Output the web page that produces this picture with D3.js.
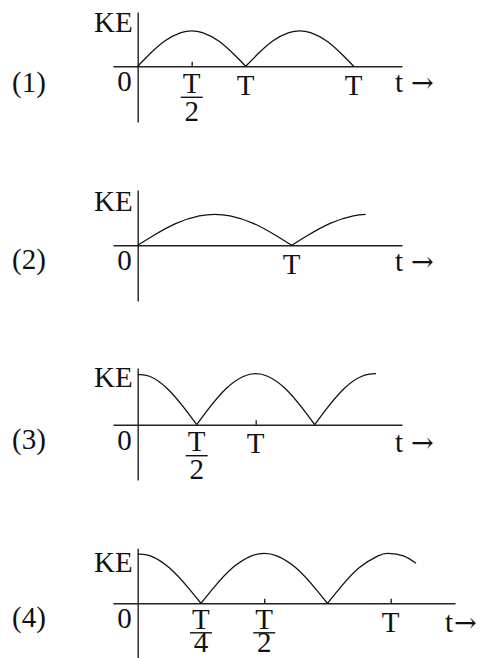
<!DOCTYPE html>
<html>
<head>
<meta charset="utf-8">
<script src="https://cdn.jsdelivr.net/npm/d3@7"></script>
<style>
  body { margin: 0; background: #fff; }
  text { font-family: "Liberation Serif", "DejaVu Serif", serif; fill: #111; }
  tspan.arrow { font-family: "DejaVu Serif", serif; }
</style>
</head>
<body>
<script>
const width = 488;
const height = 658;
const fontSize = 29;

// option labels
const panelNames = ["(1)", "(2)", "(3)", "(4)"];

// KE curves, t in units of T, KE relative to its maximum (one array per arc)
const arcs1 = [
  [[0, 0], [0.1, 0.31], [0.25, 0.71], [0.4, 0.95], [0.5, 1], [0.6, 0.95], [0.75, 0.71], [0.9, 0.31], [1, 0]],
  [[1, 0], [1.1, 0.31], [1.25, 0.71], [1.4, 0.95], [1.5, 1], [1.6, 0.95], [1.75, 0.71], [1.9, 0.31], [2, 0]],
];
const arcs2 = [
  [[0, 0], [0.1, 0.31], [0.25, 0.71], [0.4, 0.95], [0.5, 1], [0.6, 0.95], [0.75, 0.71], [0.9, 0.31], [1, 0]],
  [[1, 0], [1.1, 0.31], [1.25, 0.71], [1.4, 0.95], [1.48, 1]],
];
const arcs3 = [
  [[0, 0.98], [0.1, 0.95], [0.25, 0.71], [0.4, 0.31], [0.5, 0]],
  [[0.5, 0], [0.6, 0.31], [0.75, 0.71], [0.9, 0.95], [1, 1], [1.1, 0.95], [1.25, 0.71], [1.4, 0.31], [1.5, 0]],
  [[1.5, 0], [1.6, 0.31], [1.75, 0.71], [1.9, 0.95], [2.02, 1]],
];
const arcs4 = [
  [[0, 0.98], [0.05, 0.95], [0.125, 0.71], [0.2, 0.31], [0.25, 0]],
  [[0.25, 0], [0.3, 0.31], [0.375, 0.71], [0.45, 0.95], [0.5, 1], [0.55, 0.95], [0.625, 0.71], [0.7, 0.31], [0.75, 0]],
  [[0.75, 0], [0.8, 0.31], [0.875, 0.71], [0.95, 0.95], [0.99, 1], [1.05, 0.95], [1.1, 0.8]],
];

// tick labels on the t axis ("T/2" is drawn as a stacked fraction)
const labelValues1 = [0.5, 1, 2];
const labelTexts1 = ["T/2", "T", "T"];
const labelValues2 = [1];
const labelTexts2 = ["T"];
const labelValues3 = [0.5, 1];
const labelTexts3 = ["T/2", "T"];
const labelValues4 = [0.25, 0.5, 1];
const labelTexts4 = ["T/4", "T/2", "T"];

// small tick marks
const tickMarks1 = [0.5];
const tickMarks2 = [];
const tickMarks3 = [1];
const tickMarks4 = [0.5, 1];

// layout (pixels)
const layout = [
  { axisY: 66.3, unit: 108, amp: 35.5, xEnd: 402, yTop: 12, yBot: 122, keY: 31.5, nameY: 92, tY: 91.5, tX: 395, gap: 8, numY: 26.5, barY: 31, denY: 55 },
  { axisY: 245.3, unit: 154, amp: 31, xEnd: 402, yTop: 190, yBot: 301, keY: 211, nameY: 268.5, tY: 271, tX: 395, gap: 8, numY: 26.5, barY: 31, denY: 54 },
  { axisY: 424.7, unit: 118, amp: 51, xEnd: 402, yTop: 368, yBot: 480, keY: 387, nameY: 448.5, tY: 451.5, tX: 395, gap: 8, numY: 26.5, barY: 31, denY: 54 },
  { axisY: 603.3, unit: 253, amp: 50, xEnd: 455, yTop: 548.3, yBot: 662, keY: 571.5, nameY: 627, tY: 632.3, tX: 445, gap: 1, numY: 25.5, barY: 29.5, denY: 48.5 },
];
const x0 = 137.7;
const xStart = 113;

const panels = [
  { arcs: arcs1, lv: labelValues1, lt: labelTexts1, ticks: tickMarks1 },
  { arcs: arcs2, lv: labelValues2, lt: labelTexts2, ticks: tickMarks2 },
  { arcs: arcs3, lv: labelValues3, lt: labelTexts3, ticks: tickMarks3 },
  { arcs: arcs4, lv: labelValues4, lt: labelTexts4, ticks: tickMarks4 },
];

const svg = d3
  .select("body")
  .append("svg")
  .attr("width", width)
  .attr("height", height);

panels.forEach((p, i) => {
  const L = layout[i];
  const g = svg.append("g");

  const xScale = d3.scaleLinear().domain([0, 1]).range([x0, x0 + L.unit]);
  const yScale = d3.scaleLinear().domain([0, 1]).range([L.axisY, L.axisY - L.amp]);

  // t axis: domain line spans whole width, ticks point up
  const xAxisScale = d3
    .scaleLinear()
    .domain([xScale.invert(xStart), xScale.invert(L.xEnd)])
    .range([xStart, L.xEnd]);
  const xAxis = d3.axisTop(xAxisScale).tickValues(p.ticks).tickSizeInner(4.5).tickSizeOuter(0).tickFormat("");
  g.append("g")
    .attr("transform", "translate(0," + L.axisY + ")")
    .call(xAxis)
    .call((a) => a.selectAll("path, line").attr("stroke", "#222").attr("stroke-width", 1.4));

  // KE axis
  const yAxisScale = d3
    .scaleLinear()
    .domain([yScale.invert(L.yBot), yScale.invert(L.yTop)])
    .range([L.yBot, L.yTop]);
  g.append("g")
    .attr("transform", "translate(" + x0 + ",0)")
    .call(d3.axisLeft(yAxisScale).tickValues([]).tickSizeOuter(0))
    .call((a) => a.select("path").attr("stroke", "#222").attr("stroke-width", 1.4));

  // curve arcs
  const line = d3
    .line()
    .x((d) => xScale(d[0]))
    .y((d) => yScale(d[1]))
    .curve(d3.curveNatural);
  g.selectAll("path.arc")
    .data(p.arcs)
    .enter()
    .append("path")
    .attr("class", "arc")
    .attr("d", line)
    .attr("fill", "none")
    .attr("stroke", "#111")
    .attr("stroke-width", 1.3);

  // option number
  g.append("text").attr("x", 12).attr("y", L.nameY).attr("font-size", fontSize).text(panelNames[i]);

  // KE label
  g.append("text")
    .attr("x", x0 - 5)
    .attr("y", L.keY)
    .attr("text-anchor", "end")
    .attr("font-size", fontSize)
    .text("KE");

  // origin
  g.append("text")
    .attr("x", x0 - 6)
    .attr("y", L.axisY + 25)
    .attr("text-anchor", "end")
    .attr("font-size", fontSize)
    .text("0");

  // t arrow label
  const tLabel = g.append("text").attr("x", L.tX).attr("y", L.tY).attr("font-size", fontSize);
  tLabel.append("tspan").text("t");
  tLabel.append("tspan").attr("class", "arrow").attr("dx", L.gap).attr("font-size", 27).text("→");

  // tick labels
  p.lv.forEach((v, j) => {
    const cx = xScale(v);
    const txt = p.lt[j];
    if (txt.includes("/")) {
      const [num, den] = txt.split("/");
      const frac = g.append("text").attr("text-anchor", "middle").attr("font-size", fontSize);
      frac.append("tspan").attr("x", cx).attr("y", L.axisY + L.numY).text(num);
      frac.append("tspan").attr("x", cx).attr("y", L.axisY + L.denY).text(den);
      g.append("line")
        .attr("x1", cx - 11)
        .attr("x2", cx + 11)
        .attr("y1", L.axisY + L.barY)
        .attr("y2", L.axisY + L.barY)
        .attr("stroke", "#111")
        .attr("stroke-width", 1.4);
    } else {
      g.append("text").attr("x", cx).attr("y", L.axisY + 28.5).attr("text-anchor", "middle").attr("font-size", fontSize).text(txt);
    }
  });
});
</script>
</body>
</html>
